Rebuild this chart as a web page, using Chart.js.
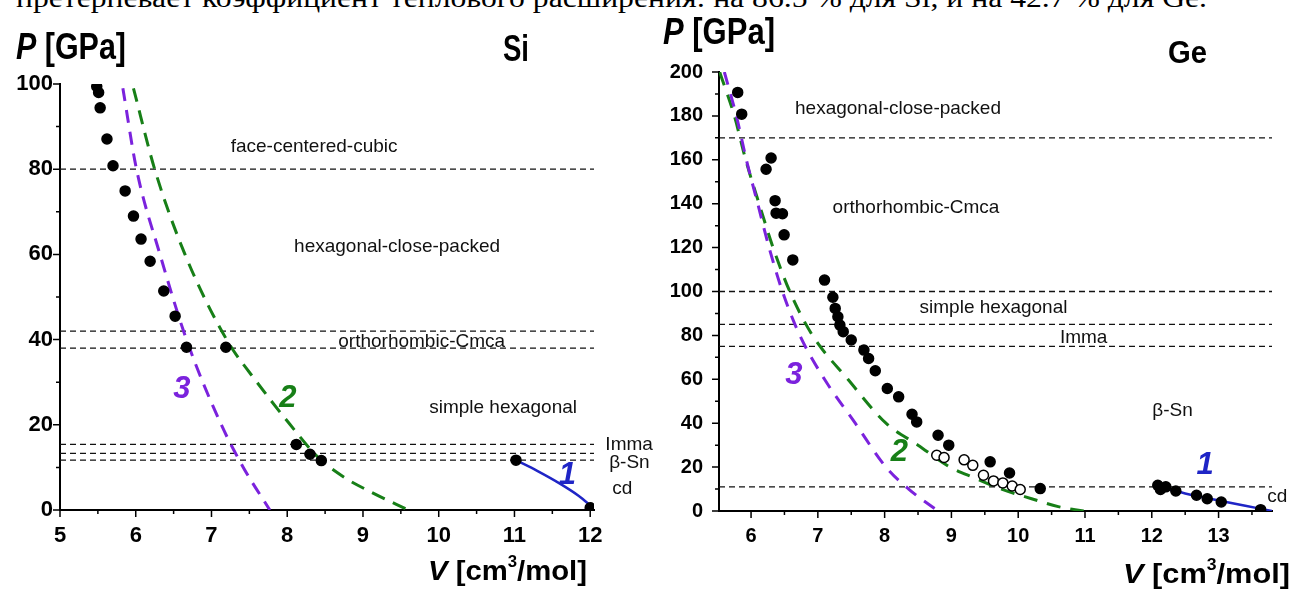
<!DOCTYPE html>
<html lang="ru">
<head>
<meta charset="UTF-8">
<title>P(V) для Si и Ge</title>
<script src="https://cdn.jsdelivr.net/npm/chart.js"></script>
<style>
  body { margin: 0; background: #fff; width: 1290px; height: 589px; overflow: hidden; position: relative; }
  #topLine {
    position: absolute; left: 16px; top: -18px;
    font-family: "Liberation Serif", "Times New Roman", serif; font-size: 28px;
    white-space: nowrap; transform-origin: 0 0; color: #000;
  }
  canvas { position: absolute; top: 0; }
  #siChart { left: 0; }
  #geChart { left: 660px; }
</style>
</head>
<body>
<div id="topLine">претерпевает коэффициент теплового расширения: на 86.5 % для Si, и на 42.7 % для Ge.</div>
<canvas id="siChart" width="660" height="589"></canvas>
<canvas id="geChart" width="630" height="589"></canvas>
<script>
// ---------- Si ----------
const siPhaseP = [80, 42, 38, 15.4, 13.3, 11.7];
const siExpV = [5.485, 5.51, 5.53, 5.62, 5.7, 5.86, 5.97, 6.07, 6.19, 6.37, 6.52, 6.67, 7.19, 8.12, 8.3, 8.45, 11.02, 12.0];
const siExpP = [99.4, 98.0, 94.4, 87.1, 80.8, 74.9, 69.0, 63.6, 58.4, 51.4, 45.5, 38.2, 38.2, 15.4, 13.1, 11.6, 11.7, 0.5];
const siCurve1V = [11.02, 11.3, 11.6, 11.85, 12.02];
const siCurve1P = [11.7, 9.2, 6.2, 3.3, 0.8];
const siCurve2V = [5.97, 6.25, 6.65, 7.2, 7.6, 8.04, 8.4, 8.74, 9.12, 9.6];
const siCurve2P = [99, 80, 60, 40, 30, 20, 12.5, 7.8, 4.1, 0];
const siCurve3V = [5.83, 6.01, 6.32, 6.67, 7.13, 7.42, 7.77];
const siCurve3P = [99, 80, 60, 40, 20, 10, 0];

// ---------- Ge ----------
const gePhaseP = [170, 100, 85, 75, 11];
const geExpV = [5.80, 5.86, 6.225, 6.30, 6.36, 6.375, 6.47, 6.495, 6.625, 7.10, 7.225, 7.26, 7.30, 7.33, 7.38, 7.50,
  7.69, 7.76, 7.86, 8.04, 8.21, 8.41, 8.48, 8.80, 8.96, 9.58, 9.87, 10.33,
  12.09, 12.13, 12.21, 12.36, 12.67, 12.83, 13.04, 13.63];
const geExpP = [190.7, 180.8, 155.7, 160.8, 141.4, 135.7, 135.4, 125.8, 114.4, 105.2, 97.4, 92.3, 88.5, 84.7, 81.7, 77.9,
  73.3, 69.5, 63.9, 55.8, 52.0, 44.1, 40.6, 34.5, 30.0, 22.4, 17.3, 10.2,
  11.7, 9.8, 11.0, 9.1, 7.2, 5.6, 4.1, 0.6];
const geOpenV = [8.78, 8.89, 9.19, 9.32, 9.48, 9.63, 9.77, 9.91, 10.03];
const geOpenP = [25.4, 24.4, 23.3, 20.8, 16.3, 13.7, 12.8, 11.4, 9.8];
const geCurve1V = [12.1, 12.5, 13.0, 13.4, 13.8];
const geCurve1P = [11, 8, 4.8, 2.4, 0];
const geCurve2V = [5.53, 5.75, 5.92, 6.12, 6.33, 6.58, 6.92, 7.45, 8.02, 8.5, 8.98, 9.35, 9.75, 10.2, 10.6, 10.98];
const geCurve2P = [200, 180, 160, 140, 120, 100, 80, 60, 40, 30, 20, 15, 10, 5.6, 2, 0];
const geCurve3V = [5.6, 5.78, 5.93, 6.1, 6.27, 6.47, 6.73, 7.1, 7.56, 8.02, 8.36, 8.8];
const geCurve3P = [200, 180, 160, 140, 120, 100, 80, 60, 40, 20, 10, 0];

const PURPLE = '#7b22dd', GREEN = '#177f17', BLUE = '#1f25c6';

// fit the cut-off line of body text above the figure
const topLine = document.getElementById('topLine');
topLine.style.transform = 'scaleX(' + (1191 / topLine.getBoundingClientRect().width) + ')';

const xy = (xs, ys) => xs.map((v, i) => ({ x: v, y: ys[i] }));

function pointSet(xs, ys, fill) {
  return { data: xy(xs, ys), showLine: false, pointRadius: 5, pointBorderWidth: 1.5,
    pointBackgroundColor: fill, pointBorderColor: '#000', clip: 0, order: 0 };
}
function curveSet(xs, ys, color, dash) {
  return { data: xy(xs, ys), showLine: true, pointRadius: 0, borderColor: color, borderWidth: 3,
    borderDash: dash, cubicInterpolationMode: 'monotone', clip: 0, order: 2 };
}
function phaseSets(levels, x0, x1) {
  return levels.map(p => ({ data: [{ x: x0, y: p }, { x: x1, y: p }], showLine: true, pointRadius: 0,
    borderColor: '#111', borderWidth: 1.3, borderDash: [6, 4], order: 3 }));
}

// text drawn with horizontal squeeze so that it covers targetW pixels
function drawRich(ctx, parts, x, base, targetW, align) {
  ctx.save();
  ctx.textBaseline = 'alphabetic';
  let w = 0;
  parts.forEach(p => { ctx.font = p.font; w += ctx.measureText(p.t).width; });
  const sx = targetW ? targetW / w : 1;
  let start = x;
  if (align === 'center') start = x - w * sx / 2;
  ctx.translate(start, base);
  ctx.scale(sx, 1);
  let cx = 0;
  parts.forEach(p => {
    ctx.font = p.font; ctx.fillStyle = p.color || '#000';
    ctx.fillText(p.t, cx, p.dy || 0);
    cx += ctx.measureText(p.t).width;
  });
  ctx.restore();
}

function tickMarks(xStep, yStep) {
  return {
    id: 'tickMarks',
    afterDraw(chart) {
      const { ctx, scales: { x, y } } = chart;
      ctx.save();
      ctx.strokeStyle = '#000';
      ctx.lineWidth = 1.5;
      ctx.beginPath();
      for (let i = Math.ceil(x.min / xStep - 1e-9); i * xStep <= x.max + 1e-9; i++) {
        const px = x.getPixelForValue(i * xStep);
        ctx.moveTo(px, x.top);
        ctx.lineTo(px, x.top + (i % 2 === 0 ? 7 : 4));
      }
      for (let i = Math.ceil(y.min / yStep - 1e-9); i * yStep <= y.max + 1e-9; i++) {
        const py = y.getPixelForValue(i * yStep);
        ctx.moveTo(y.right, py);
        ctx.lineTo(y.right - (i % 2 === 0 ? 7 : 4), py);
      }
      ctx.stroke();
      ctx.restore();
    }
  };
}

// labels: {t, x, y (data), align, font, color}; titles: pixel placed
function annotations(labels, titles) {
  return {
    id: 'annotations',
    afterDatasetsDraw(chart) {
      const { ctx, scales: { x, y } } = chart;
      labels.forEach(l => {
        ctx.save();
        ctx.font = l.font;
        ctx.fillStyle = l.color || '#111';
        ctx.textAlign = l.align || 'center';
        ctx.textBaseline = 'middle';
        ctx.fillText(l.t, x.getPixelForValue(l.x), y.getPixelForValue(l.y));
        ctx.restore();
      });
    },
    afterDraw(chart) {
      titles.forEach(t => drawRich(chart.ctx, t.parts, t.x, t.base, t.w, t.align));
    }
  };
}

function options(xMin, xMax, yMax, yW, xH, pad, tickFont, yPad) {
  return {
    responsive: false,
    animation: false,
    events: [],
    layout: { padding: pad },
    plugins: { legend: { display: false }, tooltip: { enabled: false } },
    scales: {
      x: {
        type: 'linear', min: xMin, max: xMax,
        afterFit: s => { s.height = xH; },
        grid: { drawOnChartArea: false, drawTicks: false },
        border: { display: true, color: '#000', width: 2 },
        ticks: { stepSize: 1, includeBounds: false, padding: 13, color: '#000',
          font: { family: 'Liberation Sans', weight: 'bold', size: tickFont } }
      },
      y: {
        type: 'linear', min: 0, max: yMax,
        afterFit: s => { s.width = yW; },
        grid: { drawOnChartArea: false, drawTicks: false },
        border: { display: true, color: '#000', width: 2 },
        ticks: { stepSize: 20, includeBounds: false, padding: yPad, color: '#000',
          font: { family: 'Liberation Sans', weight: 'bold', size: tickFont } }
      }
    }
  };
}

const LBL = '19px "Liberation Sans", Arial, sans-serif';
const NUM = 'italic bold 31px "Liberation Sans", Arial, sans-serif';
const B36 = 'bold 36px "Liberation Sans", Arial, sans-serif';
const BI36 = 'italic bold 36px "Liberation Sans", Arial, sans-serif';
const B28 = 'bold 28px "Liberation Sans", Arial, sans-serif';
const BI28 = 'italic bold 28px "Liberation Sans", Arial, sans-serif';
const B16 = 'bold 16px "Liberation Sans", Arial, sans-serif';

const pTitle = [{ t: 'P', font: BI36 }, { t: ' [GPa]', font: B36 }];
const vTitle = [{ t: 'V', font: BI28 }, { t: ' [cm', font: B28 }, { t: '3', font: B16, dy: -13 }, { t: '/mol]', font: B28 }];

// ---------- Si chart ----------
new Chart(document.getElementById('siChart'), {
  type: 'scatter',
  data: {
    datasets: [
      pointSet(siExpV, siExpP, '#000'),
      curveSet(siCurve3V, siCurve3P, PURPLE, [13, 9]),
      curveSet(siCurve2V, siCurve2P, GREEN, [14, 9]),
      Object.assign(curveSet(siCurve1V, siCurve1P, BLUE, []), { borderWidth: 2.5 }),
      ...phaseSets(siPhaseP, 5, 12.05)
    ]
  },
  options: options(5, 12.05, 100, 60, 79, { top: 84, right: 66, left: 0, bottom: 0 }, 22, 7),
  plugins: [
    tickMarks(0.5, 10),
    annotations([
      { t: 'face-centered-cubic', x: 8.355, y: 85.2, font: LBL },
      { t: 'hexagonal-close-packed', x: 9.45, y: 61.9, font: LBL },
      { t: 'orthorhombic-Cmca', x: 9.775, y: 39.4, font: LBL },
      { t: 'simple hexagonal', x: 10.85, y: 24.1, font: LBL },
      { t: 'Imma', x: 12.2, y: 15.3, font: LBL, align: 'left' },
      { t: 'β-Sn', x: 12.25, y: 11.2, font: LBL, align: 'left' },
      { t: 'cd', x: 12.29, y: 4.9, font: LBL, align: 'left' },
      { t: '3', x: 6.61, y: 28.4, font: NUM, color: PURPLE },
      { t: '2', x: 8.01, y: 26.3, font: NUM, color: GREEN },
      { t: '1', x: 11.70, y: 8.2, font: NUM, color: BLUE }
    ], [
      { parts: pTitle, x: 16, base: 59, w: 110 },
      { parts: [{ t: 'Si', font: B36 }], x: 503, base: 61, w: 26 },
      { parts: vTitle, x: 428, base: 580, w: 159 }
    ])
  ]
});

// ---------- Ge chart ----------
new Chart(document.getElementById('geChart'), {
  type: 'scatter',
  data: {
    datasets: [
      pointSet(geExpV, geExpP, '#000'),
      Object.assign(pointSet(geOpenV, geOpenP, '#fff'), { order: 1 }),
      curveSet(geCurve3V, geCurve3P, PURPLE, [13, 10]),
      curveSet(geCurve2V, geCurve2P, GREEN, [14, 10]),
      Object.assign(curveSet(geCurve1V, geCurve1P, BLUE, []), { borderWidth: 2.5 }),
      ...phaseSets(gePhaseP, 5.52, 13.8)
    ]
  },
  options: options(5.52, 13.8, 200, 59, 78, { top: 72, right: 18, left: 0, bottom: 0 }, 20, 16),
  plugins: [
    tickMarks(0.5, 10),
    annotations([
      { t: 'hexagonal-close-packed', x: 8.20, y: 183.3, font: LBL },
      { t: 'orthorhombic-Cmca', x: 8.47, y: 138.1, font: LBL },
      { t: 'simple hexagonal', x: 9.63, y: 92.5, font: LBL },
      { t: 'Imma', x: 10.98, y: 78.8, font: LBL },
      { t: 'β-Sn', x: 12.31, y: 45.5, font: LBL },
      { t: 'cd', x: 13.73, y: 6.3, font: LBL, align: 'left' },
      { t: '3', x: 6.64, y: 61.9, font: NUM, color: PURPLE },
      { t: '2', x: 8.22, y: 26.8, font: NUM, color: GREEN },
      { t: '1', x: 12.80, y: 20.8, font: NUM, color: BLUE }
    ], [
      { parts: pTitle, x: 3, base: 43.5, w: 112 },
      { parts: [{ t: 'Ge', font: 'bold 32px "Liberation Sans", Arial, sans-serif' }], x: 508, base: 62.5, w: 39 },
      { parts: vTitle, x: 463, base: 583, w: 167 }
    ])
  ]
});
</script>
</body>
</html>
